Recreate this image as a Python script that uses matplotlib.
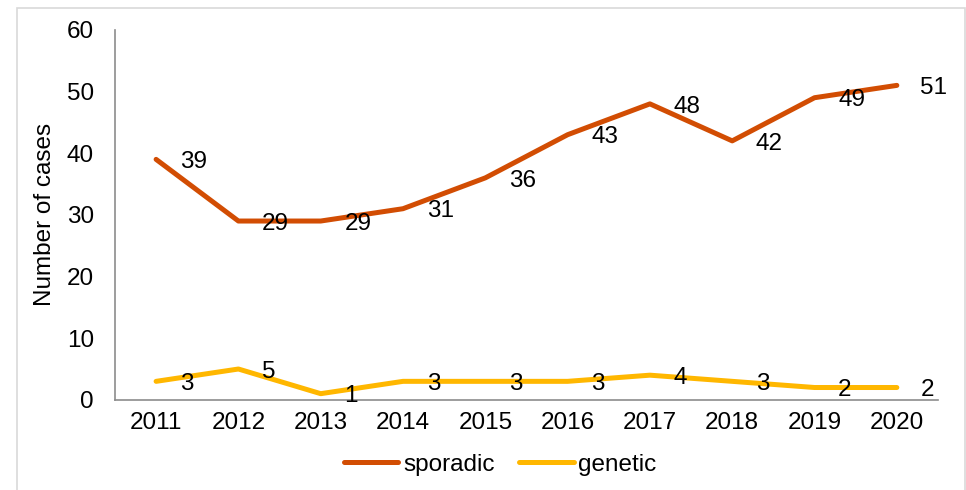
import matplotlib.pyplot as plt
from matplotlib.patches import Rectangle

plt.rcParams['font.family'] = ['Liberation Sans', 'DejaVu Sans']

# data
years = ['2011', '2012', '2013', '2014', '2015', '2016', '2017', '2018', '2019', '2020']
sporadic = [39, 29, 29, 31, 36, 43, 48, 42, 49, 51]
genetic = [3, 5, 1, 3, 3, 3, 4, 3, 2, 2]

c_spor = '#D24D03'
c_gen = '#FFB700'
fs = 17.5

fig = plt.figure(figsize=(9.66, 4.9), dpi=100)
ax = fig.add_axes([0.119, 0.184, 0.852, 0.755])

x = list(range(len(years)))
ax.plot(x, sporadic, color=c_spor, lw=3.6, label='sporadic', solid_capstyle='round', solid_joinstyle='round')
ax.plot(x, genetic, color=c_gen, lw=3.6, label='genetic', solid_capstyle='round', solid_joinstyle='round')

# data labels to the right of each point
for series in (sporadic, genetic):
    for xi, v in zip(x, series):
        ax.annotate(str(v), (xi, v), xytext=(17, -2), textcoords='offset points',
                    ha='left', va='center', fontsize=fs)

ax.set_xlim(-0.5, len(years) - 0.5)
ax.set_ylim(0, 60)
ax.set_yticks(range(0, 61, 10))
ax.set_xticks(x)
ax.set_xticklabels(years)
ax.tick_params(length=0, labelsize=fs, pad=9)
ax.tick_params(axis='y', pad=15)
for s in ('top', 'right'):
    ax.spines[s].set_visible(False)
for s in ('left', 'bottom'):
    ax.spines[s].set_color('#8c8c8c')
    ax.spines[s].set_linewidth(1.2)
ax.set_ylabel('Number of cases', fontsize=fs, labelpad=8)

ax.legend(loc='center', bbox_to_anchor=(0.468, -0.175), ncol=2, frameon=False,
          fontsize=fs, handlelength=2.25, handletextpad=0.2, columnspacing=1.0)

# chart border
fig.patches.append(Rectangle((17 / 966, -0.01), (965 - 17) / 966, 1 - 8 / 490 + 0.01,
                             transform=fig.transFigure, fill=False, edgecolor='#d9d9d9', lw=1.2))

fig.savefig('out.png', dpi=100)
